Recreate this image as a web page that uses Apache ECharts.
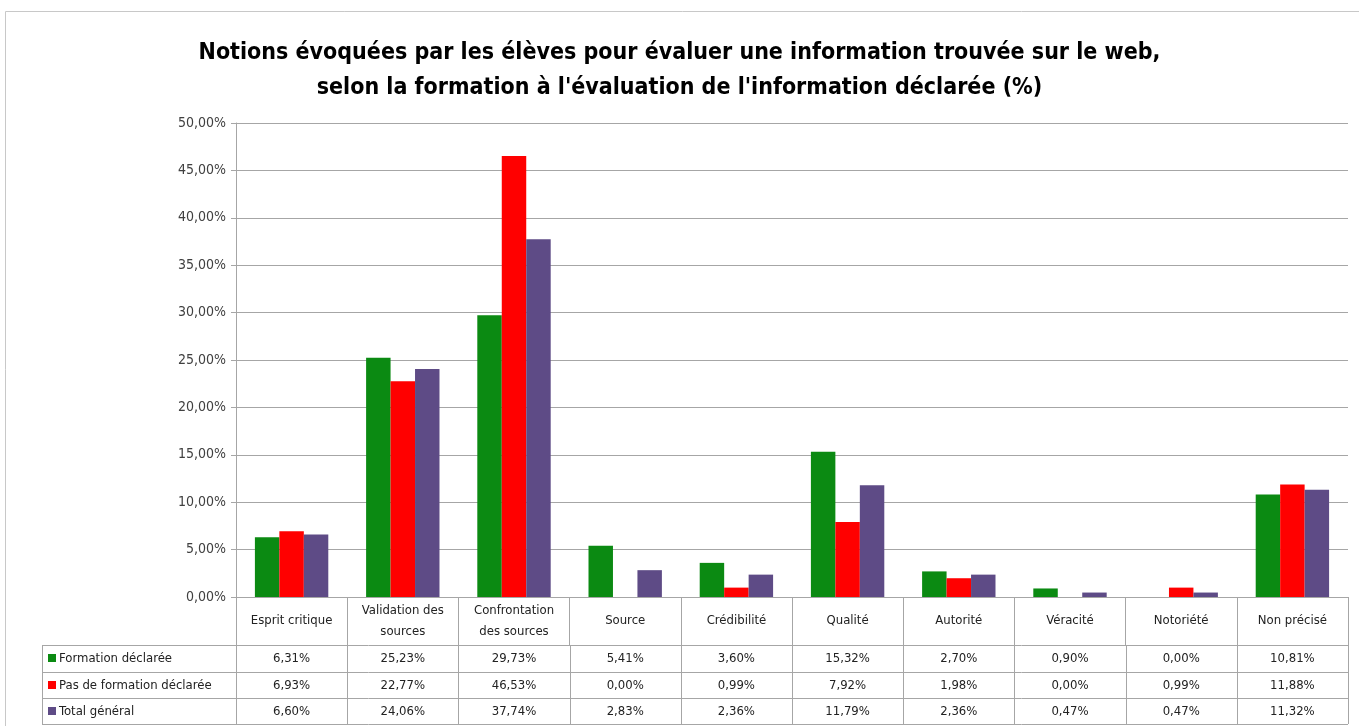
<!DOCTYPE html>
<html>
<head>
<meta charset="utf-8" />
<title>Notions évoquées par les élèves</title>
<script src="https://cdn.jsdelivr.net/npm/echarts@6/dist/echarts.min.js"></script>
<style>
	html, body { margin: 0; padding: 0; background: #fff; }
	#main { width: 1359px; height: 726px; }
</style>
</head>
<body>
<div id="main"></div>
<script>
var categories = ['Esprit critique', 'Validation des\nsources', 'Confrontation\ndes sources', 'Source', 'Crédibilité', 'Qualité', 'Autorité', 'Véracité', 'Notoriété', 'Non précisé'];
var seriesNames = ['Formation déclarée', 'Pas de formation déclarée', 'Total général'];
var formation = [6.31, 25.23, 29.73, 5.41, 3.60, 15.32, 2.70, 0.90, 0.00, 10.81];
var pasFormation = [6.93, 22.77, 46.53, 0.00, 0.99, 7.92, 1.98, 0.00, 0.99, 11.88];
var total = [6.60, 24.06, 37.74, 2.83, 2.36, 11.79, 2.36, 0.47, 0.47, 11.32];

var colors = ['#0b8a12', '#ff0000', '#5e4b86'];
var font = '"Liberation Sans Narrow", "DejaVu Sans Condensed", sans-serif';

// mise en page (px)
var plotLeft = 236, plotRight = 1348, plotTop = 123, plotBottom = 597;
var tableLeft = 42;
var rowTops = [645, 672, 698];
var rowH = 26;

function pct(v) {
	return v.toFixed(2).replace('.', ',') + '%';
}

var chart = echarts.init(document.getElementById('main'));

var option = {
	animation: false,
	title: {
		text: 'Notions évoquées par les élèves pour évaluer une information trouvée sur le web,\nselon la formation à l\'évaluation de l\'information déclarée (%)',
		left: 'center',
		top: 31,
		textStyle: { fontFamily: font, fontWeight: 'bold', fontSize: 23, lineHeight: 35, color: '#000' }
	},
	grid: { left: plotLeft, right: 1359 - plotRight, top: plotTop, bottom: 726 - plotBottom, containLabel: false },
	xAxis: {
		type: 'category',
		data: categories,
		axisLine: { lineStyle: { color: '#a6a6a6', width: 1 } },
		axisTick: { show: true, length: 48, lineStyle: { color: '#a6a6a6' } },
		axisLabel: { margin: 24, verticalAlign: 'middle', fontFamily: font, fontSize: 13, lineHeight: 21, color: '#222', interval: 0 }
	},
	yAxis: {
		type: 'value',
		min: 0,
		max: 50,
		interval: 5,
		axisLine: { show: true, lineStyle: { color: '#a6a6a6' } },
		axisTick: { show: true, length: 5, lineStyle: { color: '#a6a6a6' } },
		axisLabel: { formatter: pct, fontFamily: font, fontSize: 14, color: '#404040', margin: 10 },
		splitLine: { lineStyle: { color: '#a6a6a6', width: 1 } }
	},
	series: [
		{ name: seriesNames[0], type: 'bar', data: formation, itemStyle: { color: colors[0] }, barGap: '0%', barCategoryGap: '34%' },
		{ name: seriesNames[1], type: 'bar', data: pasFormation, itemStyle: { color: colors[1] } },
		{ name: seriesNames[2], type: 'bar', data: total, itemStyle: { color: colors[2] } }
	]
};
chart.setOption(option);

// tableau de données sous le graphique
var colW = (plotRight - plotLeft) / categories.length;
var centers = categories.map(function (c, i) { return chart.convertToPixel({ xAxisIndex: 0 }, i); });
var tableBottom = rowTops[rowTops.length - 1] + rowH;
var lineStyle = { stroke: '#a6a6a6', lineWidth: 1 };
var graphic = [];

// cadre extérieur
graphic.push({ type: 'rect', shape: { x: 5.5, y: 11.5, width: 1400, height: 800 }, style: { fill: null, stroke: '#c8c8c8', lineWidth: 1 }, silent: true });

// lignes horizontales
rowTops.concat([tableBottom]).forEach(function (y) {
	graphic.push({ type: 'line', shape: { x1: tableLeft, y1: y + 0.5, x2: plotRight, y2: y + 0.5 }, style: lineStyle });
});
// ligne verticale gauche et séparateurs de colonnes
graphic.push({ type: 'line', shape: { x1: tableLeft + 0.5, y1: rowTops[0], x2: tableLeft + 0.5, y2: tableBottom }, style: lineStyle });
for (var k = 0; k <= categories.length; k++) {
	var xb = Math.round(plotLeft + k * colW) + 0.5;
	graphic.push({ type: 'line', shape: { x1: xb, y1: rowTops[0], x2: xb, y2: tableBottom }, style: lineStyle });
}
graphic.push({ type: 'line', shape: { x1: plotRight + 0.5, y1: plotBottom, x2: plotRight + 0.5, y2: rowTops[0] }, style: lineStyle });

var rows = [formation, pasFormation, total];
rows.forEach(function (vals, r) {
	var cy = rowTops[r] + rowH / 2 + 1;
	graphic.push({ type: 'rect', shape: { x: tableLeft + 6, y: cy - 5, width: 8, height: 8 }, style: { fill: colors[r] } });
	graphic.push({ type: 'text', x: tableLeft + 17, y: cy, style: { text: seriesNames[r], font: '13px ' + font, fill: '#222', textVerticalAlign: 'middle', textAlign: 'left' } });
	vals.forEach(function (v, i) {
		graphic.push({ type: 'text', x: centers[i], y: cy, style: { text: pct(v), font: '13px ' + font, fill: '#222', textVerticalAlign: 'middle', textAlign: 'center' } });
	});
});

chart.setOption({ graphic: graphic });
</script>
</body>
</html>
